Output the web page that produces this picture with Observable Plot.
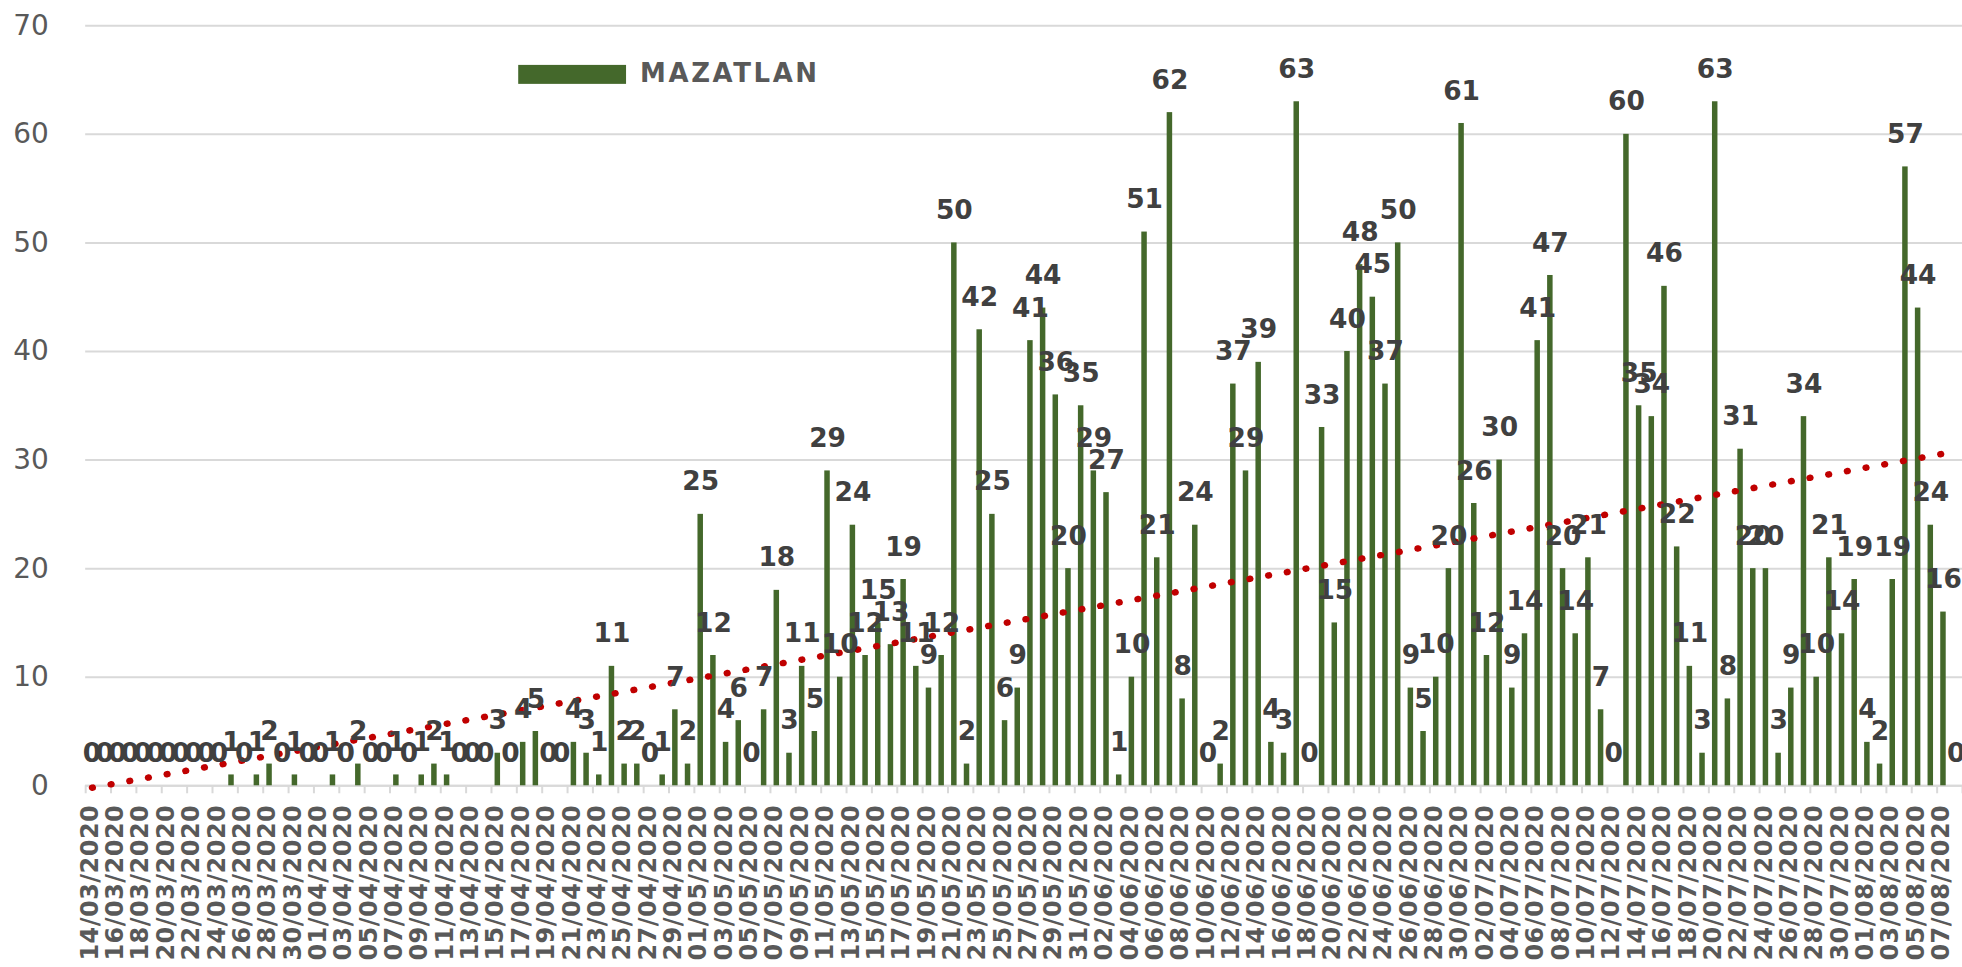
<!DOCTYPE html>
<html><head><meta charset="utf-8">
<script src="https://cdn.jsdelivr.net/npm/d3@7"></script>
<script src="https://cdn.jsdelivr.net/npm/@observablehq/plot@0.6"></script>
<style>
html,body{margin:0;padding:0;background:#fff;overflow:hidden;}
#chart{position:relative;width:1962px;height:967px;overflow:hidden;}
#chart svg{display:block;}
g[aria-label="x-axis tick label"] text{letter-spacing:0.5px;}
</style></head><body><div id="chart"></div>
<script>
const seriesName = "MAZATLAN";
const tickLabels = [
"14/03/2020","16/03/2020","18/03/2020","20/03/2020","22/03/2020","24/03/2020","26/03/2020","28/03/2020","30/03/2020",
"01/04/2020","03/04/2020","05/04/2020","07/04/2020","09/04/2020","11/04/2020","13/04/2020","15/04/2020","17/04/2020","19/04/2020","21/04/2020","23/04/2020","25/04/2020","27/04/2020","29/04/2020",
"01/05/2020","03/05/2020","05/05/2020","07/05/2020","09/05/2020","11/05/2020","13/05/2020","15/05/2020","17/05/2020","19/05/2020","21/05/2020","23/05/2020","25/05/2020","27/05/2020","29/05/2020","31/05/2020",
"02/06/2020","04/06/2020","06/06/2020","08/06/2020","10/06/2020","12/06/2020","14/06/2020","16/06/2020","18/06/2020","20/06/2020","22/06/2020","24/06/2020","26/06/2020","28/06/2020","30/06/2020",
"02/07/2020","04/07/2020","06/07/2020","08/07/2020","10/07/2020","12/07/2020","14/07/2020","16/07/2020","18/07/2020","20/07/2020","22/07/2020","24/07/2020","26/07/2020","28/07/2020","30/07/2020",
"01/08/2020","03/08/2020","05/08/2020","07/08/2020"
];
const cases = [
0,0,0,0,0,0,0,0,0,0,0,1,0,1,2,0,1,0,0,1,
0,2,0,0,1,0,1,2,1,0,0,0,3,0,4,5,0,0,4,3,
1,11,2,2,0,1,7,2,25,12,4,6,0,7,18,3,11,5,29,10,
24,12,15,13,19,11,9,12,50,2,42,25,6,9,41,44,36,20,35,29,
27,1,10,51,21,62,8,24,0,2,37,29,39,4,3,63,0,33,15,40,
48,45,37,50,9,5,10,20,61,26,12,30,9,14,41,47,20,14,21,7,
0,60,35,34,46,22,11,3,63,8,31,20,20,3,9,34,10,21,14,19,
4,2,19,57,44,24,16,0
];
const yTicks = [0,10,20,30,40,50,60,70];

const barColor = "#44682B";
const data = cases.map((v, i) => ({day: i, value: v}));
const dayW = 12.7, left = 85.3;
const W = Math.round(left + cases.length * dayW);

const chart = Plot.plot({
  width: W, height: 967,
  marginLeft: left, marginRight: 0, marginTop: 25.3, marginBottom: 180.5,
  x: {domain: [0, cases.length], axis: null},
  y: {domain: [0, 70], axis: null},
  style: {fontFamily: "DejaVu Sans", background: "#fff", overflow: "visible"},
  marks: [
    Plot.gridY(yTicks, {stroke: "#d9d9d9", strokeOpacity: 1, strokeWidth: 2}),
    Plot.axisY(yTicks, {tickSize: 0, tickPadding: 37, fontSize: 28, color: "#595959", label: null}),
    Plot.ruleY([0], {stroke: "#d9d9d9", strokeWidth: 2}),
    Plot.axisX(d3.range(0, cases.length + 1, 2), {tickSize: 8, tickFormat: () => "", stroke: "#d9d9d9", strokeWidth: 2, label: null}),
    Plot.axisX(d3.range(0, cases.length, 2).map(d => d + 0.5), {
      tickSize: 0, tickPadding: 19, tickRotate: -90, dx: -2, label: null,
      tickFormat: d => tickLabels[(d - 0.5) / 2] ?? "",
      fontSize: 24, fontWeight: "bold", color: "#595959"
    }),
    Plot.rectY(data, {x1: "day", x2: d => d.day + 1, y: "value", insetLeft: 3.6, insetRight: 3.6, fill: barColor}),
    Plot.linearRegressionY(data, {x: d => d.day + 0.5, y: "value", stroke: "#c00000", strokeWidth: 6.5, strokeDasharray: "0.8 18.2", strokeLinecap: "round", ci: 0}),
    Plot.text(data, {x: d => d.day + 0.5, y: "value", text: d => String(d.value), lineAnchor: "bottom", dy: -24, fontSize: 26.5, fontWeight: "bold", fill: "#404040"})
  ]
});
document.getElementById("chart").appendChild(chart);

const svg = d3.select(chart);
svg.append("rect").attr("x", 519).attr("y", 65).attr("width", 108).attr("height", 19).attr("fill", barColor);
svg.append("text").attr("x", 641).attr("y", 82).attr("text-anchor", "start").text(seriesName)
  .attr("font-family", "DejaVu Sans").attr("font-size", 26).attr("font-weight", "bold")
  .attr("letter-spacing", 2.6).attr("fill", "#595959");
</script></body></html>
